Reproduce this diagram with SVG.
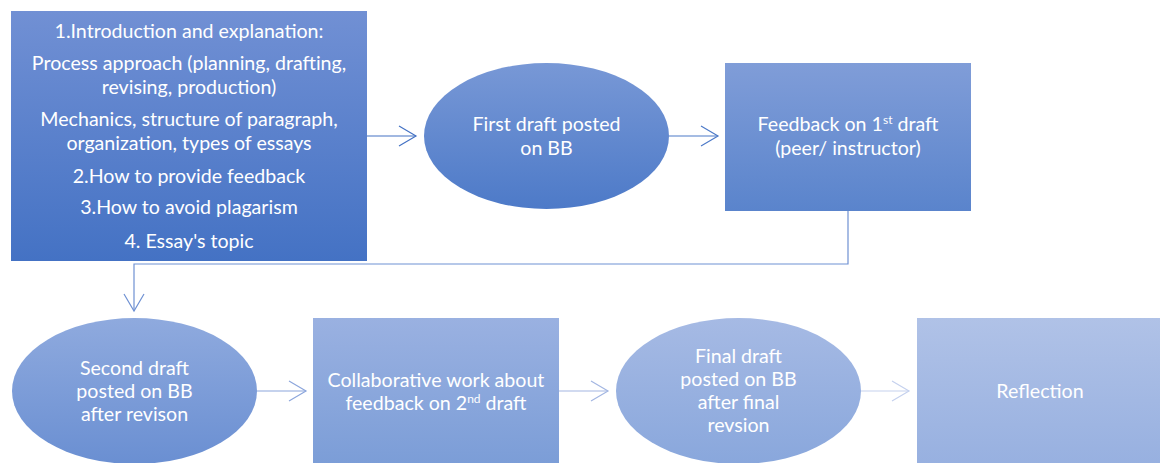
<svg xmlns="http://www.w3.org/2000/svg" width="1160" height="463" viewBox="0 0 1160 463">
<style>
text{font-family:Lato,"Open Sans","Liberation Sans",sans-serif;font-size:19.6px;fill:#ffffff;text-anchor:middle}
.sup{font-size:12px}
.conn{fill:none;stroke-width:1.2}
</style>
<defs>
<linearGradient id="g1" x1="0" y1="0" x2="0" y2="1"><stop offset="0" stop-color="#7190d4"/><stop offset="1" stop-color="#4472c4"/></linearGradient>
<linearGradient id="g2" x1="0" y1="0" x2="0" y2="1"><stop offset="0" stop-color="#7898d6"/><stop offset="1" stop-color="#4d7ac8"/></linearGradient>
<linearGradient id="g3" x1="0" y1="0" x2="0" y2="1"><stop offset="0" stop-color="#809dd8"/><stop offset="1" stop-color="#5a84cc"/></linearGradient>
<linearGradient id="g4" x1="0" y1="0" x2="0" y2="1"><stop offset="0" stop-color="#8faade"/><stop offset="1" stop-color="#6a8fd2"/></linearGradient>
<linearGradient id="g5" x1="0" y1="0" x2="0" y2="1"><stop offset="0" stop-color="#9ab1e1"/><stop offset="1" stop-color="#7b9dd7"/></linearGradient>
<linearGradient id="g6" x1="0" y1="0" x2="0" y2="1"><stop offset="0" stop-color="#a6bae4"/><stop offset="1" stop-color="#89a7dc"/></linearGradient>
<linearGradient id="g7" x1="0" y1="0" x2="0" y2="1"><stop offset="0" stop-color="#b0c2e7"/><stop offset="1" stop-color="#97b0e0"/></linearGradient>
<marker id="a1" markerWidth="20" markerHeight="22" refX="18" refY="11" orient="auto" markerUnits="userSpaceOnUse"><path d="M1,1 L18,11 L1,21" fill="none" stroke="#4472c4" stroke-width="1.2"/></marker>
<marker id="a2" markerWidth="20" markerHeight="22" refX="18" refY="11" orient="auto" markerUnits="userSpaceOnUse"><path d="M1,1 L18,11 L1,21" fill="none" stroke="#4d7ac8" stroke-width="1.2"/></marker>
<marker id="a3" markerWidth="20" markerHeight="22" refX="18" refY="11" orient="auto" markerUnits="userSpaceOnUse"><path d="M1,1 L18,11 L1,21" fill="none" stroke="#6f91d3" stroke-width="1.2"/></marker>
<marker id="a4" markerWidth="20" markerHeight="22" refX="18" refY="11" orient="auto" markerUnits="userSpaceOnUse"><path d="M1,1 L18,11 L1,21" fill="none" stroke="#8ca6dc" stroke-width="1.2"/></marker>
<marker id="a5" markerWidth="20" markerHeight="22" refX="18" refY="11" orient="auto" markerUnits="userSpaceOnUse"><path d="M1,1 L18,11 L1,21" fill="none" stroke="#a3b6e2" stroke-width="1.2"/></marker>
<marker id="a6" markerWidth="20" markerHeight="22" refX="18" refY="11" orient="auto" markerUnits="userSpaceOnUse"><path d="M1,1 L18,11 L1,21" fill="none" stroke="#c5d1ee" stroke-width="1.2"/></marker>
</defs>
<g id="connectors">
<path class="conn" d="M367,136 H416" stroke="#4472c4" marker-end="url(#a1)"/>
<path class="conn" d="M669,136 H718" stroke="#4d7ac8" marker-end="url(#a2)"/>
<path class="conn" d="M848,211 V264 H134 V311" stroke="#6f91d3" marker-end="url(#a3)"/>
<path class="conn" d="M257,391 H306" stroke="#8ca6dc" marker-end="url(#a4)"/>
<path class="conn" d="M559,391 H608" stroke="#a3b6e2" marker-end="url(#a5)"/>
<path class="conn" d="M861,391 H909" stroke="#c5d1ee" marker-end="url(#a6)"/>
</g>
<g id="node1">
<rect x="11" y="11" width="356" height="250" fill="url(#g1)"/>
<text x="189" y="38">1.Introduction and explanation:</text>
<text x="189" y="70">Process approach (planning, drafting,</text>
<text x="189" y="94">revising, production)</text>
<text x="189" y="126">Mechanics, structure of paragraph,</text>
<text x="189" y="150">organization, types of essays</text>
<text x="189" y="183">2.How to provide feedback</text>
<text x="189" y="214">3.How to avoid plagarism</text>
<text x="189" y="248">4. Essay's topic</text>
</g>
<g id="node2">
<ellipse cx="546.5" cy="136" rx="122.5" ry="73" fill="url(#g2)"/>
<text x="546.5" y="131">First draft posted</text>
<text x="546.5" y="155">on BB</text>
</g>
<g id="node3">
<rect x="725" y="63" width="246" height="148" fill="url(#g3)"/>
<text x="848" y="131">Feedback on 1<tspan class="sup" dy="-7">st</tspan><tspan dy="7"> draft</tspan></text>
<text x="848" y="155">(peer/ instructor)</text>
</g>
<g id="node4">
<ellipse cx="134.5" cy="391" rx="122.5" ry="73" fill="url(#g4)"/>
<text x="134.5" y="375">Second draft</text>
<text x="134.5" y="398">posted on BB</text>
<text x="134.5" y="421">after revison</text>
</g>
<g id="node5">
<rect x="313" y="318" width="246" height="148" fill="url(#g5)"/>
<text x="436" y="387">Collaborative work about</text>
<text x="436" y="410">feedback on 2<tspan class="sup" dy="-7">nd</tspan><tspan dy="7"> draft</tspan></text>
</g>
<g id="node6">
<ellipse cx="738.5" cy="391" rx="122.5" ry="73" fill="url(#g6)"/>
<text x="738.5" y="363">Final draft</text>
<text x="738.5" y="386">posted on BB</text>
<text x="738.5" y="409">after final</text>
<text x="738.5" y="432">revsion</text>
</g>
<g id="node7">
<rect x="917" y="318" width="246" height="148" fill="url(#g7)"/>
<text x="1040" y="398">Reflection</text>
</g>
</svg>
